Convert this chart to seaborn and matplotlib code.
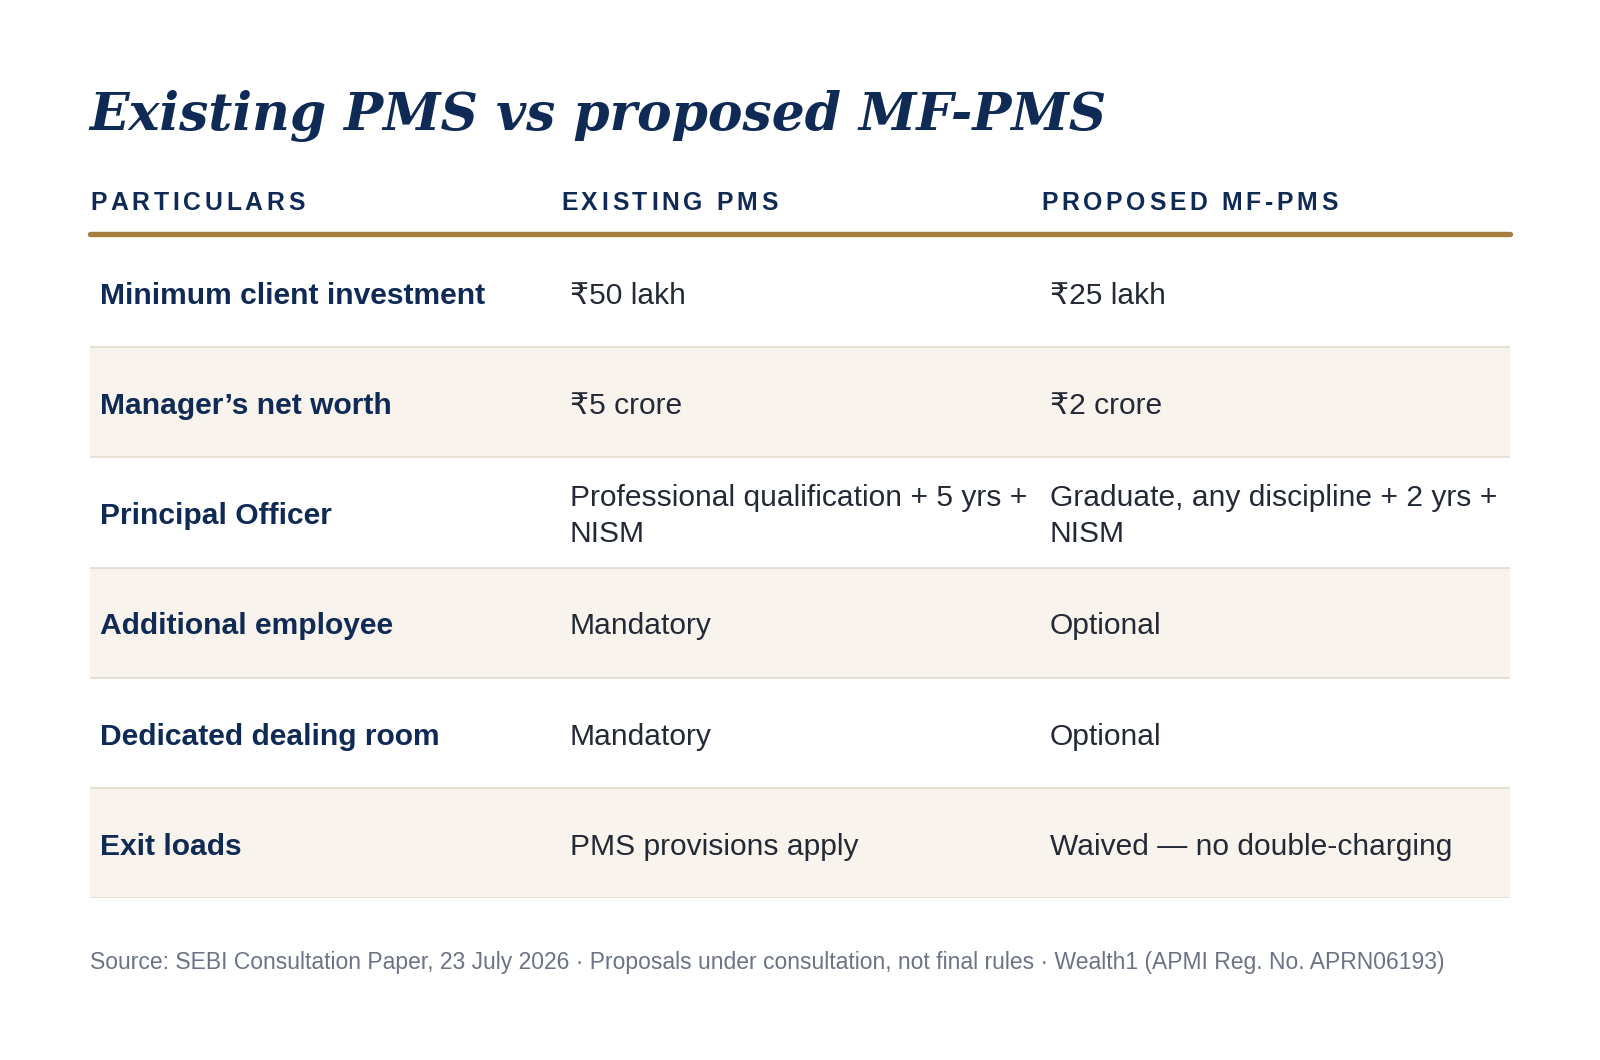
import matplotlib
matplotlib.use("Agg")
import matplotlib.pyplot as plt
import seaborn as sns
from matplotlib.lines import Line2D

# Table content
title = "Existing PMS vs proposed MF-PMS"
headers = ["PARTICULARS", "EXISTING PMS", "PROPOSED MF-PMS"]
particulars = ["Minimum client investment", "Manager\u2019s net worth", "Principal Officer",
               "Additional employee", "Dedicated dealing room", "Exit loads"]
existing = ["\u20b950 lakh", "\u20b95 crore", "Professional qualification + 5 yrs +\nNISM",
            "Mandatory", "Mandatory", "PMS provisions apply"]
proposed = ["\u20b925 lakh", "\u20b92 crore", "Graduate, any discipline + 2 yrs +\nNISM",
            "Optional", "Optional", "Waived \u2014 no double-charging"]
source = ("Source: SEBI Consultation Paper, 23 July 2026 \u00b7 Proposals under consultation, "
          "not final rules \u00b7 Wealth1 (APMI Reg. No. APRN06193)")

NAVY = "#0f2a55"
GOLD = "#a87f3e"
SHADE = "#f8f3ec"
RULE = "#e0d9cc"
BODY = "#232a36"
GREY = "#6b7385"
SANS = ["Liberation Sans", "DejaVu Sans"]

sns.set_theme(style="white")
plt.rcParams["font.family"] = SANS

W, H = 1600, 1060
fig = plt.figure(figsize=(W / 100, H / 100), dpi=100)
fx = lambda x: x / W
fy = lambda y: 1 - y / H

left, right, top, bottom = 90, 1510, 237, 898
ax = fig.add_axes([fx(left), fy(bottom), fx(right - left), (bottom - top) / H])

# shaded row backgrounds as horizontal bars
n = len(particulars)
fill = [1 if i % 2 else 0 for i in range(n)]
sns.barplot(x=fill, y=[str(i) for i in range(n)], orient="h", width=1.0,
            color=SHADE, saturation=1, linewidth=0, ax=ax)
ax.set_xlim(0, 1)
ax.set_ylim(n - 0.5, -0.5)
ax.set_axis_off()
for i in range(n):
    ax.axhline(i + 0.5, color=RULE, lw=1.1)

col_x = [(100 - left) / (right - left), (570 - left) / (right - left), (1050 - left) / (right - left)]
dy = 0.035
for i in range(n):
    ax.text(col_x[0], i + dy, particulars[i], fontsize=21.6, fontweight="bold", color=NAVY,
            va="center", ha="left", family=SANS)
    ax.text(col_x[1], i + dy, existing[i], fontsize=21.6, color=BODY, va="center", ha="left",
            family=SANS, linespacing=1.36)
    ax.text(col_x[2], i + dy, proposed[i], fontsize=21.6, color=BODY, va="center", ha="left",
            family=SANS, linespacing=1.36)

# gold rule under the header
fig.add_artist(Line2D([fx(left), fx(right)], [fy(234), fy(234)], color=GOLD, lw=3.9))

# title
fig.text(fx(89), fy(130), title, fontsize=37.4, fontweight="bold", fontstyle="italic",
         family=["DejaVu Serif"], color=NAVY, va="baseline", ha="left")

# letter-spaced headers
renderer = fig.canvas.get_renderer()
for hx, label in zip([90, 561, 1041], headers):
    x = hx
    for ch in label:
        t = fig.text(fx(x), fy(210), ch, fontsize=17.8, fontweight="bold", color=NAVY,
                     va="baseline", ha="left", family=SANS)
        if ch == " ":
            w = 6.8
        else:
            w = t.get_window_extent(renderer).width
        x += w + 3.7

# footnote
fig.text(fx(90), fy(969), source, fontsize=16.5, color=GREY, va="baseline", ha="left", family=SANS)

fig.savefig("out.png", dpi=100, facecolor="white")
